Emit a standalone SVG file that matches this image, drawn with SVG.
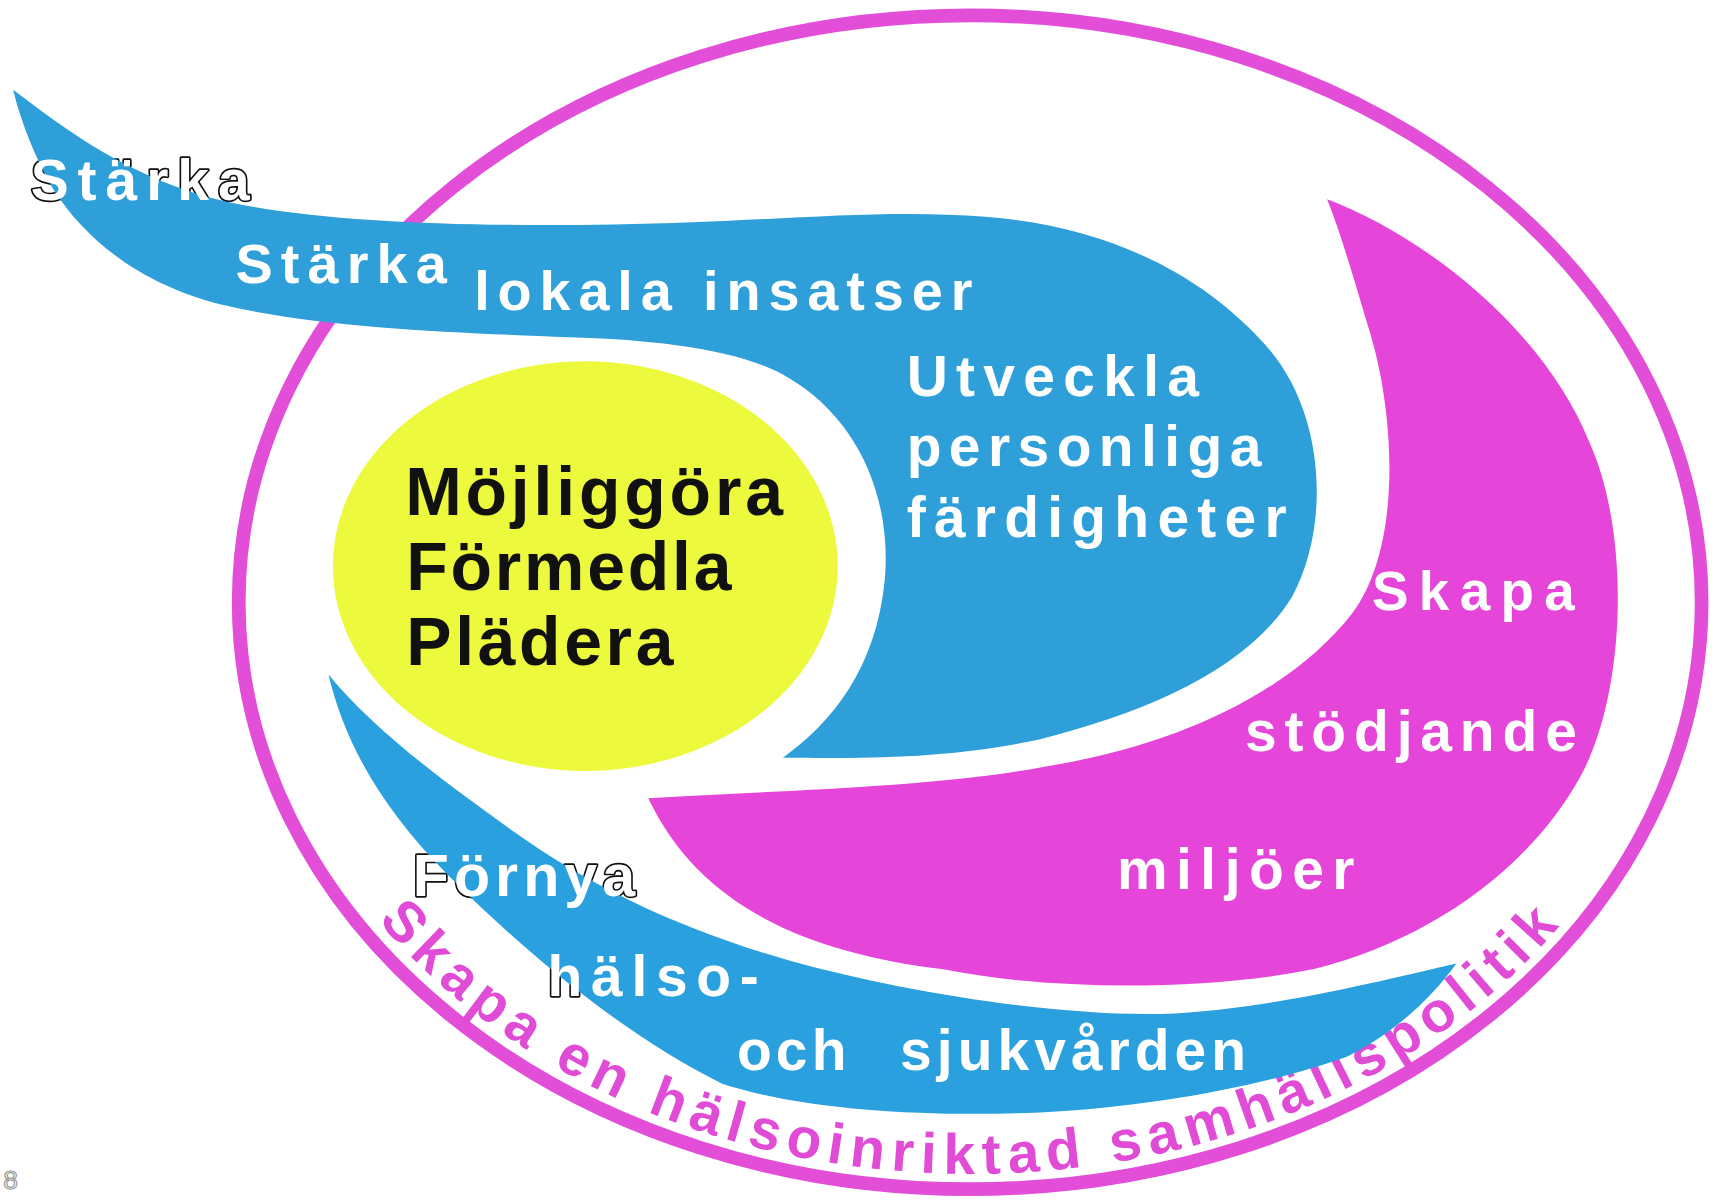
<svg xmlns="http://www.w3.org/2000/svg" width="1717" height="1201" viewBox="0 0 1717 1201">
<defs>
<style>
.w{fill:#fff;font-family:"Liberation Sans",Arial,sans-serif;font-weight:bold;}
.ol{fill:#fff;stroke:url(#olPat);stroke-width:3;stroke-linejoin:round;paint-order:stroke;font-family:"Liberation Sans",Arial,sans-serif;font-weight:bold;}
.k{fill:#111;font-family:"Liberation Sans",Arial,sans-serif;font-weight:bold;}
.curve{fill:#e14cd6;font-family:"Liberation Sans",Arial,sans-serif;font-weight:bold;}
.blue{fill:#2f9fda;}
.blue2{fill:#2aa1de;}
.mag{fill:#e546d9;}
</style>
<path id="arcText" d="M 311.3 795.1 A 652 522 0 0 0 1462.7 795.1"/>
<pattern id="olPat" patternUnits="userSpaceOnUse" x="0" y="0" width="1568" height="1097">
  <rect width="1568" height="1097" fill="#111"/>
  <use href="#pTop"/>
  <use href="#pBot"/>
</pattern>
</defs>
<rect x="0" y="0" width="1717" height="1201" fill="#fff"/>
<g transform="scale(1.0950)">
  <g id="ring">
    <ellipse cx="886" cy="550" rx="668" ry="536" fill="none" stroke="#e24ed8" stroke-width="12.5"/>
    <text class="curve" font-size="52" letter-spacing="6.8" text-anchor="middle"><textPath href="#arcText" startOffset="50%">Skapa en hälsoinriktad samhällspolitik</textPath></text>
  </g>
  <g id="band-top">
    <path id="pTop" class="blue" d="M 12 82 C 60 118, 120 165, 210 185 C 300 203, 420 207, 560 205 C 700 203, 800 190, 900 198 C 1010 206, 1100 250, 1160 320 C 1210 380, 1215 480, 1180 545 C 1140 610, 1050 650, 950 675 C 860 695, 770 692, 715 692 C 760 660, 800 610, 808 530 C 815 450, 780 380, 720 345 C 680 320, 600 310, 520 308 C 420 304, 300 300, 210 280 C 130 262, 80 220, 50 175 C 35 150, 20 115, 12 82 Z"/>
  </g>
  <g id="band-bottom">
    <path id="pBot" class="blue2" d="M 300 616 C 315 680, 350 740, 410 800 C 470 860, 560 940, 660 990 C 740 1015, 850 1020, 950 1016 C 1060 1010, 1160 990, 1230 965 C 1270 945, 1305 915, 1330 880 C 1260 896, 1160 922, 1060 926 C 960 928, 820 905, 720 877 C 620 848, 540 810, 470 760 C 400 710, 340 665, 300 616 Z"/>
  </g>
  <g id="droplet">
    <path class="mag" d="M 1212 182 C 1300 215, 1410 300, 1452 405 C 1490 490, 1485 640, 1440 715 C 1390 800, 1300 860, 1200 885 C 1100 905, 960 905, 860 885 C 740 870, 640 830, 592 729 C 700 722, 850 720, 955 700 C 1080 680, 1180 630, 1235 560 C 1280 500, 1275 380, 1250 300 C 1235 250, 1225 215, 1212 182 Z"/>
  </g>
  <g id="core">
    <ellipse cx="534.5" cy="517" rx="230.5" ry="187" fill="#ecf93c"/>
    <text class="k" x="370" y="470" font-size="62" textLength="345" lengthAdjust="spacing">Möjliggöra</text>
    <text class="k" x="371" y="539" font-size="62" textLength="297" lengthAdjust="spacing">Förmedla</text>
    <text class="k" x="371" y="607" font-size="62" textLength="244" lengthAdjust="spacing">Plädera</text>
  </g>
  <g id="labels-top">
    <text class="ol" x="28" y="183" font-size="52" textLength="200" lengthAdjust="spacing">Stärka</text>
    <text class="w" x="215" y="258" font-size="51" textLength="193" lengthAdjust="spacing">Stärka</text>
    <text class="w" x="433" y="283" font-size="51" textLength="455" lengthAdjust="spacing">lokala insatser</text>
    <text class="w" x="828" y="362" font-size="52" textLength="267" lengthAdjust="spacing">Utveckla</text>
    <text class="w" x="828" y="426" font-size="52" textLength="324" lengthAdjust="spacing">personliga</text>
    <text class="w" x="828" y="490" font-size="52" textLength="347" lengthAdjust="spacing">färdigheter</text>
  </g>
  <g id="labels-droplet">
    <text class="w" x="1253" y="557" font-size="50" textLength="185" lengthAdjust="spacing">Skapa</text>
    <text class="w" x="1137" y="686" font-size="52" textLength="303" lengthAdjust="spacing">stödjande</text>
    <text class="w" x="1020" y="812" font-size="52" textLength="217" lengthAdjust="spacing">miljöer</text>
  </g>
  <g id="labels-bottom">
    <text class="ol" x="377" y="818" font-size="54" textLength="203" lengthAdjust="spacing">Förnya</text>
    <text class="ol" x="500" y="910" font-size="52" textLength="193" lengthAdjust="spacing">hälso-</text>
    <text class="w" x="673" y="977" font-size="52" textLength="100" lengthAdjust="spacing">och</text>
    <text class="w" x="822" y="977" font-size="52" textLength="316" lengthAdjust="spacing">sjukvården</text>
  </g>
  <g id="mark">
    <text x="3" y="1086" font-size="24" fill="none" stroke="#999" stroke-width="1.1" font-family="Liberation Sans, Arial, sans-serif">8</text>
  </g>
</g>
</svg>
